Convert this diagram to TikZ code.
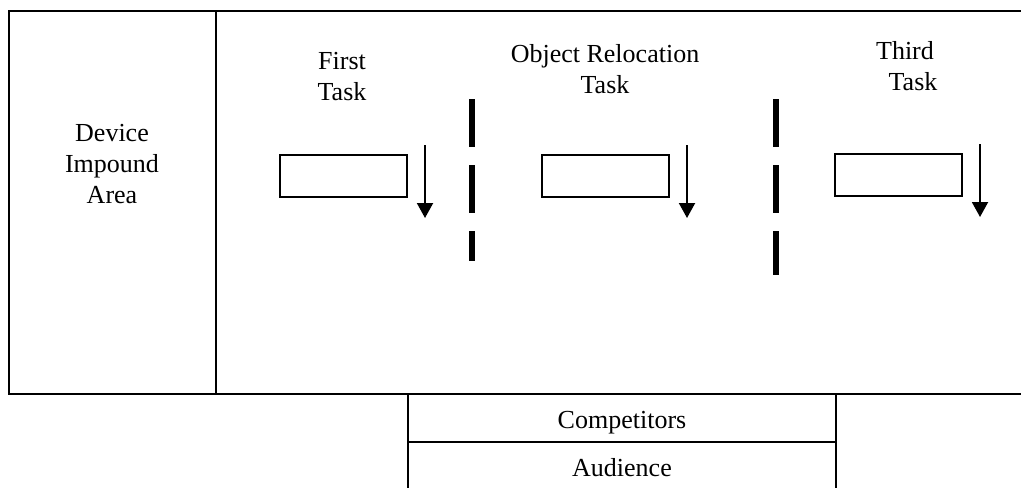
\documentclass[tikz,border=0pt]{standalone}
\usepackage{fontspec}
\setmainfont{Liberation Serif}
\usetikzlibrary{arrows.meta, positioning, calc}

\begin{document}
\begin{tikzpicture}[x=0.5pt, y=-0.5pt, line width=1pt,
    >={Triangle[length=7.5pt, width=8pt]},
    txt/.style={align=center, font=\fontsize{13}{15.5}\selectfont},
    slot/.style={draw, minimum width=63.5pt, minimum height=21pt, inner sep=0pt},
    cell/.style={draw, txt, text height=12pt, text depth=2pt,
        minimum width=214pt, minimum height=24pt, inner sep=0pt, outer sep=0pt},
    divider/.style={line width=3pt, dash pattern=on 24pt off 9pt}]
    \clip (0,0) rectangle (1021,487);

    % Arena outline (open on the right)
    \draw (1021,10.5) -- (8.5,10.5) -- (8.5,394) -- (1021,394);
    \draw (216,10.5) -- (216,394);

    % Nodes
    \node (impound) [txt] at (112,164) {Device\\Impound\\Area};
    \node (first) [txt] at (342,77) {First\\Task};
    \node (reloc) [txt] at (605,69) {Object Relocation\\Task};
    \node (third) [txt] at (905,66) {Third\\\hspace*{8pt}Task};

    \node (box1) [slot] at (343.5,176) {};
    \node (box2) [slot] at (605.5,176) {};
    \node (box3) [slot] at (898.5,175) {};

    \node (comp) [cell, anchor=north] at (622,394) {Competitors};
    \node (aud) [cell, below=0pt of comp] {Audience};

    % Direction arrows beside each box
    \foreach \b in {box1, box2, box3} {
        \coordinate (\b top) at ($(\b.north east)+(17,-9)$);
        \coordinate (\b tip) at ($(\b.south east)+(17,20)$);
        \draw[->] (\b top) -- (\b tip);
    }

    % Dashed separators between the tasks
    \coordinate (sepA) at (472,99);
    \coordinate (sepB) at (776,99);
    \draw[divider] (sepA) -- ++(0,162);
    \draw[divider] (sepB) -- ++(0,176);
\end{tikzpicture}
\end{document}
